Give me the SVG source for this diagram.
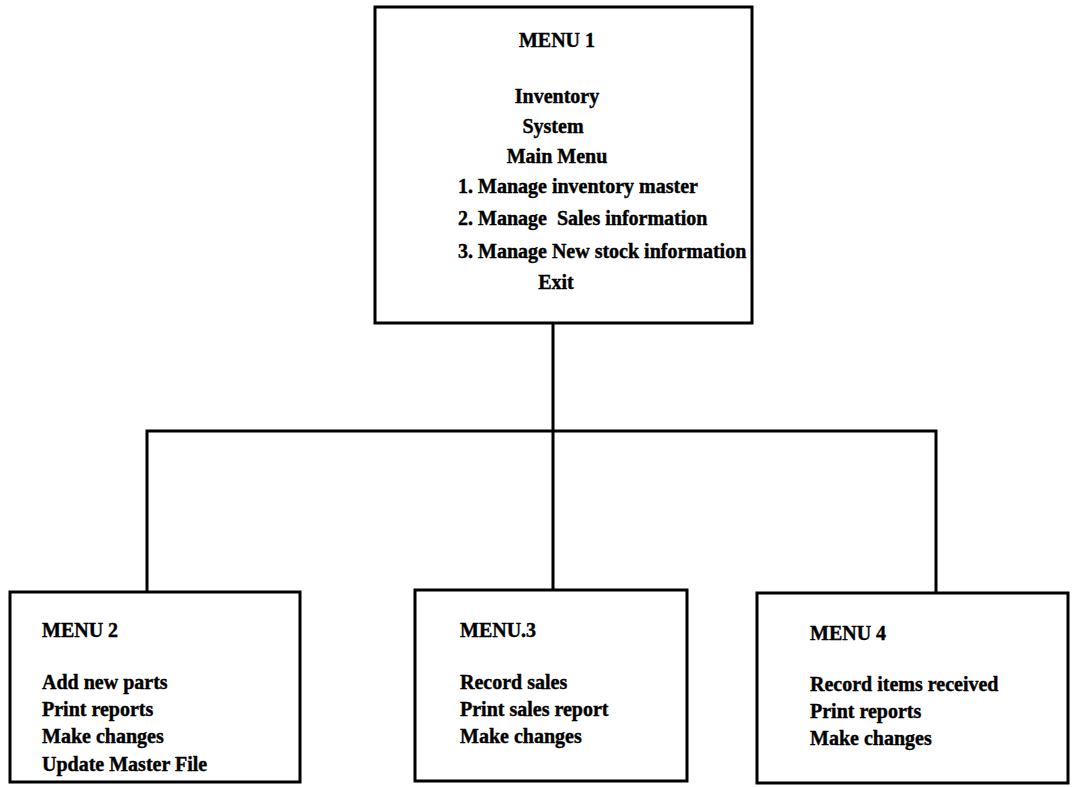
<svg xmlns="http://www.w3.org/2000/svg" width="1079" height="787" viewBox="0 0 1079 787">
<style>
.box{fill:#fff;stroke:#000;stroke-width:3}
.t{font-family:"Liberation Serif","Times New Roman",serif;font-weight:bold;font-size:20px;fill:#000;stroke:#000;stroke-width:0.4}
.c{text-anchor:middle}
.ln{fill:none;stroke:#000;stroke-width:3}
</style>
<rect width="1079" height="787" fill="#fff"/>
<g id="connectors">
<path class="ln" d="M553,323 V590"/>
<path class="ln" d="M147,592 V431 H936 V593"/>
</g>
<g id="menu1">
<rect class="box" x="375" y="7" width="377" height="316"/>
<text class="t c" x="557" y="47">MENU 1</text>
<text class="t c" x="557" y="103">Inventory</text>
<text class="t c" x="553" y="133">System</text>
<text class="t c" x="557" y="163">Main Menu</text>
<text class="t" x="458" y="193">1. Manage inventory master</text>
<text class="t" x="458" y="225" xml:space="preserve">2. Manage  Sales information</text>
<text class="t" x="458" y="258">3. Manage New stock information</text>
<text class="t c" x="556" y="289">Exit</text>
</g>
<g id="menu2">
<rect class="box" x="10" y="592" width="290" height="190"/>
<text class="t" x="42" y="637">MENU 2</text>
<text class="t" x="42" y="689">Add new parts</text>
<text class="t" x="42" y="716">Print reports</text>
<text class="t" x="42" y="743">Make changes</text>
<text class="t" x="42" y="771">Update Master File</text>
</g>
<g id="menu3">
<rect class="box" x="415" y="590" width="272" height="191"/>
<text class="t" x="460" y="637">MENU.3</text>
<text class="t" x="460" y="689">Record sales</text>
<text class="t" x="460" y="716">Print sales report</text>
<text class="t" x="460" y="743">Make changes</text>
</g>
<g id="menu4">
<rect class="box" x="757" y="593" width="311" height="190"/>
<text class="t" x="810" y="640">MENU 4</text>
<text class="t" x="810" y="691">Record items received</text>
<text class="t" x="810" y="718">Print reports</text>
<text class="t" x="810" y="745">Make changes</text>
</g>
</svg>
